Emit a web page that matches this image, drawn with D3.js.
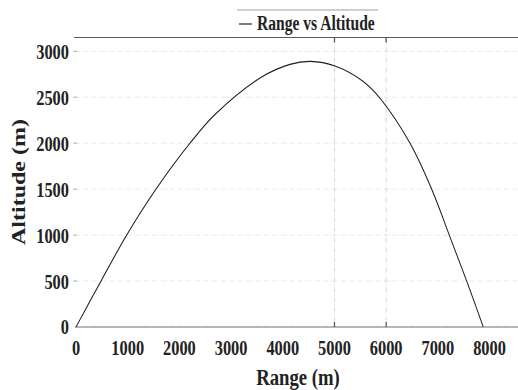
<!DOCTYPE html>
<meta charset="utf-8">
<title>Range vs Altitude</title>
<style>

    body {
        margin: 0;
        background: #fff;
    }

    text {
        font-family: "Liberation Serif", "Times New Roman", serif;
        font-weight: bold;
        fill: #222;
    }

</style>
<body>
<script src="https://cdn.jsdelivr.net/npm/d3@7"></script>
<script>

    // trajectory
    var rangeM = [0, 484, 980, 1547, 2205, 2689, 3591, 4139, 4540, 5010, 5557, 5880, 6460, 6880, 7220, 7557, 7878];
    var altitudeM = [0, 500, 1000, 1500, 2000, 2312, 2720, 2858, 2891, 2840, 2672, 2490, 2000, 1500, 1000, 500, 0];

    var xTicks = [0, 1000, 2000, 3000, 4000, 5000, 6000, 7000, 8000],
        yTicks = [0, 500, 1000, 1500, 2000, 2500, 3000],
        xGrid = [5000, 6000],
        seriesName = "Range vs Altitude";

    var w = 518,
        h = 390,
        k = 0.78,            // the whole picture is squeezed sideways
        W = w / k;

    var svg = d3.select("body").append("svg")
        .attr("width", w)
        .attr("height", h)
        .attr("viewBox", "0 0 " + W + " " + h)
        .attr("preserveAspectRatio", "none");

    var x = d3.scaleLinear().domain([0, 8550]).range([76 / k, 518 / k]),
        y = d3.scaleLinear().domain([0, 3150]).range([327, 37.5]);

    var x0 = 75 / k, x1 = W;

    // horizontal grid
    svg.selectAll(".hgrid")
        .data(yTicks)
        .enter().append("line")
        .attr("x1", x0).attr("x2", x1)
        .attr("y1", y).attr("y2", y)
        .style("stroke", "#e4e4e4")
        .style("stroke-width", 1)
        .style("stroke-dasharray", "6,2,1,2");

    svg.selectAll(".ytick")
        .data(yTicks.slice(1))
        .enter().append("line")
        .attr("x1", x0 - 2 / k).attr("x2", x0 + 2 / k)
        .attr("y1", y).attr("y2", y)
        .style("stroke", "#aaa");

    // the two vertical grid lines
    svg.selectAll(".vgrid")
        .data(xGrid)
        .enter().append("line")
        .attr("x1", x).attr("x2", x)
        .attr("y1", y(3150)).attr("y2", y(0))
        .style("stroke", "#dadada")
        .style("stroke-width", 1.4)
        .style("stroke-dasharray", "5,2,1,2");

    svg.selectAll(".vtick")
        .data(xGrid)
        .enter().append("g")
        .each(function(d) {
            var g = d3.select(this);
            g.append("line").attr("x1", x(d)).attr("x2", x(d)).attr("y1", y(0) - 5).attr("y2", y(0));
            g.append("line").attr("x1", x(d)).attr("x2", x(d)).attr("y1", y(3150)).attr("y2", y(3150) + 5);
        })
        .selectAll("line")
        .style("stroke", "#555")
        .style("stroke-width", 1.6);

    // frame: top and bottom only
    svg.append("line")
        .attr("x1", 74 / k).attr("x2", x1)
        .attr("y1", y(3150)).attr("y2", y(3150))
        .style("stroke", "#444");

    svg.append("line")
        .attr("x1", x0).attr("x2", x1)
        .attr("y1", y(0)).attr("y2", y(0))
        .style("stroke", "#777")
        .style("stroke-width", 1.2);

    // tick labels
    svg.selectAll(".xlab")
        .data(xTicks)
        .enter().append("text")
        .attr("x", x)
        .attr("y", 355)
        .attr("text-anchor", "middle")
        .style("font-size", "21px")
        .text(function(d) { return d; });

    svg.selectAll(".ylab")
        .data(yTicks)
        .enter().append("text")
        .attr("x", 69 / k)
        .attr("y", function(d) { return y(d) + 7.5; })
        .attr("text-anchor", "end")
        .style("font-size", "21px")
        .text(function(d) { return d; });

    // axis titles
    svg.append("text")
        .attr("x", 298 / k)
        .attr("y", 385)
        .attr("text-anchor", "middle")
        .style("font-size", "24px")
        .text("Range (m)");

    svg.append("text")
        .attr("transform", "translate(" + (25 / k) + ",182)rotate(-90)")
        .attr("text-anchor", "middle")
        .style("font-size", "24px")
        .text("Altitude (m)");

    // trajectory
    var line = d3.line()
        .x(function(d) { return x(d[0]); })
        .y(function(d) { return y(d[1]); })
        .curve(d3.curveCatmullRom.alpha(0.5));

    svg.append("path")
        .datum(d3.zip(rangeM, altitudeM))
        .attr("d", line)
        .style("fill", "none")
        .style("stroke", "#1a1a1a")
        .style("stroke-width", 1.2);

    // legend
    var lg = svg.append("g");

    lg.append("line")
        .attr("x1", 237 / k).attr("x2", 378 / k)
        .attr("y1", 10).attr("y2", 10)
        .style("stroke", "#cfcfcf")
        .style("stroke-width", 2);

    lg.append("line")
        .attr("x1", 239 / k).attr("x2", 252 / k)
        .attr("y1", 24).attr("y2", 24)
        .style("stroke", "#333")
        .style("stroke-width", 1.3);

    lg.append("text")
        .attr("x", 257 / k)
        .attr("y", 30)
        .style("font-size", "20px")
        .text(seriesName);

</script>
